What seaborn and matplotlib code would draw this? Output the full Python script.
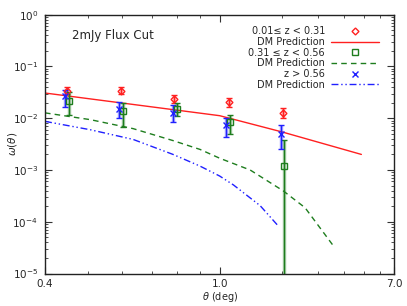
import numpy as np
import pandas as pd
import matplotlib
matplotlib.use('Agg')
import matplotlib.pyplot as plt
from matplotlib.lines import Line2D
from matplotlib.ticker import FixedLocator, FixedFormatter, NullFormatter, LogLocator
import seaborn as sns

# data points: theta (deg), w(theta), lower / upper error bar ends
red_x = [0.450, 0.596, 0.788, 1.108, 2.015]
red_y = [0.034, 0.034, 0.0236, 0.0202, 0.0126]
red_lo = [0.029, 0.029, 0.0196, 0.0164, 0.0102]
red_hi = [0.041, 0.040, 0.0283, 0.0244, 0.0157]

green_x = [0.453, 0.602, 0.798, 1.124, 2.053]
green_y = [0.0219, 0.0135, 0.0152, 0.00846, 0.00122]
green_lo = [0.0117, 0.0067, 0.0109, 0.00506, 1e-7]
green_hi = [0.0316, 0.020, 0.0195, 0.01167, 0.00377]

blue_x = [0.445, 0.589, 0.782, 1.079, 1.979]
blue_y = [0.0265, 0.0152, 0.0127, 0.0073, 0.0049]
blue_lo = [0.0164, 0.0102, 0.00846, 0.00438, 0.00254]
blue_hi = [0.0357, 0.021, 0.0178, 0.0101, 0.0075]

# DM prediction curves
dm_red_x = [0.4, 1.0, 2.0, 4.85]
dm_red_y = [0.0307, 0.0112, 0.00545, 0.0020]

dm_green_x = [0.4, 0.507, 0.635, 0.783, 0.902, 1.0, 1.405, 2.03, 2.59, 3.56]
dm_green_y = [0.0127, 0.0094, 0.0063, 0.0037, 0.0025, 0.00169, 0.00100, 0.000396, 0.000187, 0.0000338]

dm_blue_x = [0.4, 0.507, 0.635, 0.783, 0.902, 1.0, 1.166, 1.57, 1.93]
dm_blue_y = [0.0087, 0.0060, 0.0039, 0.0020, 0.00119, 0.000765, 0.000515, 0.000205, 0.0000813]

RED = '#ff2020'
GREEN = '#1e7d1e'
BLUE = '#2020ff'

sns.set_theme(style='ticks')
plt.rcParams['font.family'] = ['DejaVu Sans']


# theta axis: 0.4-1.0 and 1.0-7.0 each take half the width (log within each half)
def fwd(x):
    x = np.clip(np.asarray(x, dtype=float), 1e-6, None)
    return np.where(x <= 1.0, 0.5 * np.log10(x / 0.4) / np.log10(2.5),
                    0.5 + 0.5 * np.log10(x) / np.log10(7.0))


def inv(f):
    f = np.asarray(f, dtype=float)
    return np.where(f <= 0.5, 0.4 * 2.5 ** (2 * f), 7.0 ** (2 * f - 1))


fig = plt.figure(figsize=(4.07, 3.06), dpi=100)
ax = fig.add_axes([0.1106, 0.106, 0.8582, 0.846])
ax.set_xscale('function', functions=(fwd, inv))
ax.set_yscale('log')

sns.lineplot(x=dm_red_x, y=dm_red_y, color=RED, lw=1.0, ax=ax, estimator=None, sort=False)
sns.lineplot(x=dm_green_x, y=dm_green_y, color=GREEN, lw=1.0, ax=ax, estimator=None, sort=False,
             linestyle=(0, (4, 3)))
sns.lineplot(x=dm_blue_x, y=dm_blue_y, color=BLUE, lw=1.0, ax=ax, estimator=None, sort=False,
             linestyle=(0, (5, 2, 1, 2, 1, 2)))

for xs, ys, lo, hi, col, mk, ms in [
        (red_x, red_y, red_lo, red_hi, RED, 'D', 3.5),
        (green_x, green_y, green_lo, green_hi, GREEN, 's', 5),
        (blue_x, blue_y, blue_lo, blue_hi, BLUE, 'x', 5)]:
    ys = np.array(ys)
    err = [ys - np.array(lo), np.array(hi) - ys]
    ax.errorbar(xs, ys, yerr=err, fmt='none', ecolor=col, elinewidth=2.5, alpha=0.35, capsize=0)
    ax.errorbar(xs, ys, yerr=err, fmt=mk, color=col, mfc='none', mec=col, ms=ms, mew=1.0,
                elinewidth=1.0, capsize=2, capthick=1.0)

ax.set_xlim(0.4, 7.0)
ax.set_ylim(1e-5, 1.0)

ax.xaxis.set_major_locator(FixedLocator([0.4, 1.0, 7.0]))
ax.xaxis.set_major_formatter(FixedFormatter(['0.4', '1.0', '7.0']))
ax.xaxis.set_minor_locator(FixedLocator([0.5, 0.6, 0.7, 0.8, 0.9, 2, 3, 4, 5, 6]))
ax.xaxis.set_minor_formatter(NullFormatter())
ax.yaxis.set_major_locator(LogLocator(base=10, numticks=10))
ax.yaxis.set_minor_locator(LogLocator(base=10, subs=np.arange(2, 10), numticks=10))
ax.yaxis.set_minor_formatter(NullFormatter())

ax.tick_params(which='both', direction='in', top=True, right=True, labelsize=7.5, color='#333333')
ax.tick_params(which='major', length=5, width=0.8)
ax.tick_params(which='minor', length=2.5, width=0.6)
ax.tick_params(axis='x', which='major', pad=4)
ax.tick_params(axis='y', which='major', pad=5)
for s in ax.spines.values():
    s.set_linewidth(1.0)
    s.set_color('#222222')

ax.set_xlabel(r'$\theta$ (deg)', fontsize=7)
ax.xaxis.set_label_coords(0.5, -0.062)
ax.set_ylabel(r'$\omega(\theta)$', fontsize=7.5)
ax.yaxis.set_label_coords(-0.075, 0.5)

ax.text(0.077, 0.918, '2mJy Flux Cut', transform=ax.transAxes, fontsize=8.5, va='center', ha='left')

handles = [
    Line2D([], [], color=RED, marker='D', ms=3.5, mfc='none', ls='none'),
    Line2D([], [], color=RED, lw=1.0),
    Line2D([], [], color=GREEN, marker='s', ms=5, mfc='none', ls='none'),
    Line2D([], [], color=GREEN, lw=1.0, ls=(0, (4, 3))),
    Line2D([], [], color=BLUE, marker='x', ms=5, ls='none'),
    Line2D([], [], color=BLUE, lw=1.0, ls=(0, (5, 2, 1, 2, 1, 2))),
]
labels = ['0.01\u2264 z < 0.31', 'DM Prediction', '0.31 \u2264 z < 0.56', 'DM Prediction',
          'z > 0.56', 'DM Prediction']
leg = ax.legend(handles, labels, loc='upper right', bbox_to_anchor=(0.955, 0.955), frameon=False,
                markerfirst=False, fontsize=7, handlelength=4.9, handletextpad=0.6,
                labelspacing=0.07, borderpad=0, borderaxespad=0)
leg._legend_handle_box.get_children()[0].align = 'right'

fig.savefig('out.png', dpi=100)
